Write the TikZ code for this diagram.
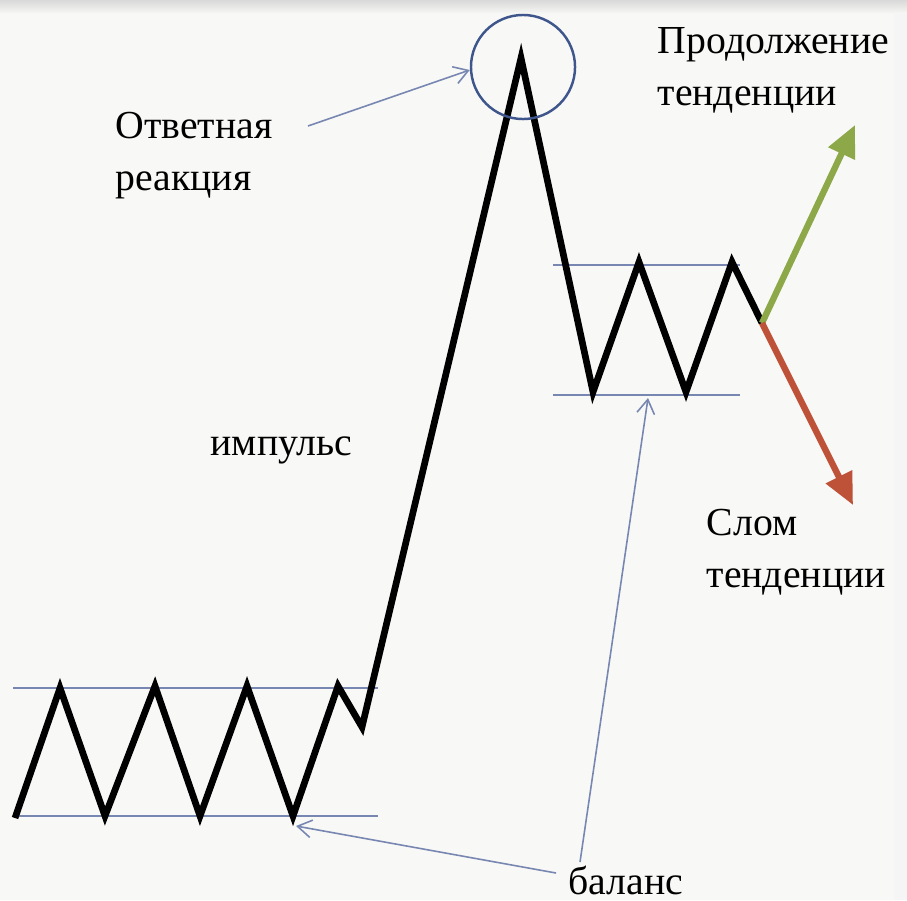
\documentclass[tikz,border=0pt]{standalone}
\usepackage{fontspec}
\setmainfont{Liberation Serif}
\usetikzlibrary{arrows.meta}
\definecolor{paper}{RGB}{248,248,246}
\definecolor{rangeblue}{RGB}{120,135,178}
\definecolor{ringblue}{RGB}{62,86,140}
\definecolor{upgreen}{RGB}{140,168,72}
\definecolor{downred}{RGB}{190,82,56}
\tikzstyle{price} = [line width=1.9pt, draw=black]
\tikzstyle{level} = [line width=0.5pt, draw=rangeblue]
\tikzstyle{pointer} = [line width=0.45pt, draw=rangeblue, -{Straight Barb[length=4pt,width=5pt]}]
\tikzstyle{trend} = [line width=1.8pt, -{Triangle[length=9pt,width=8pt]}]
\tikzstyle{caption} = [inner sep=0pt, align=left, anchor=west, font=\fontsize{11.3}{14.8}\selectfont]

\begin{document}
\begin{tikzpicture}[x=0.01cm, y=-0.01cm]
    \fill[paper] (0,0) rectangle (907,900);
    \useasboundingbox (0,0) rectangle (907,900);
    \fill[top color=gray!30, bottom color=paper] (0,0) rectangle (907,14);
    \fill[gray!8] (894,14) rectangle (907,900);

    % texts
    \node (reply) [caption] at (115,156) {Ответная\\реакция};
    \node (goon) [caption] at (657,70) {Продолжение\\тенденции};
    \node (impulse) [caption] at (210,450) {импульс};
    \node (brk) [caption] at (706,552) {Слом\\тенденции};
    \node (bal) [caption] at (568,880) {баланс};

    % price path
    \coordinate (s0) at (15,818);
    \coordinate (p1) at (60,688);
    \coordinate (t1) at (105,816);
    \coordinate (p2) at (155,686);
    \coordinate (t2) at (200,816);
    \coordinate (p3) at (247,686);
    \coordinate (t3) at (293,816);
    \coordinate (p4) at (338,686);
    \coordinate (dip) at (362,727);
    \coordinate (top) at (521,58);
    \coordinate (t4) at (593,392);
    \coordinate (p5) at (639,262);
    \coordinate (t5) at (686,392);
    \coordinate (p6) at (732,262);
    \coordinate (fork) at (762,323);

    % range levels
    \draw [level] (13,688) -- (378,688);
    \draw [level] (15,816) -- (378,816);
    \draw [level] (553,265) -- (740,265);
    \draw [level] (553,395) -- (740,395);

    \draw [price] (s0) -- (p1) -- (t1) -- (p2) -- (t2) -- (p3) -- (t3) -- (p4) -- (dip)
        -- (top) -- (t4) -- (p5) -- (t5) -- (p6) -- (fork);

    \node (ring) [circle, draw=ringblue, line width=0.7pt, minimum size=1.04cm, inner sep=0pt] at (523,67) {};

    \draw [trend, draw=upgreen, fill=upgreen] (fork) -- (855,125);
    \draw [trend, draw=downred, fill=downred] (fork) -- (853,505);

    % pointers
    \coordinate (r-from) at (308,126);
    \coordinate (b-from1) at (556,873);
    \coordinate (b-from2) at (580,862);
    \draw [pointer] (r-from) -- (ring.west |- 0,70);
    \draw [pointer] (b-from1) -- (296,826);
    \draw [pointer] (b-from2) -- (648,398);
\end{tikzpicture}
\end{document}
